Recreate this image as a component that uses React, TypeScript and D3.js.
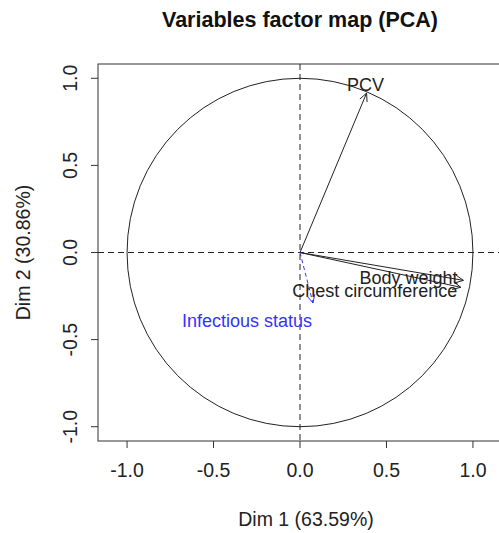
import React from 'react';
import * as d3 from 'd3';

const ticks = [-1.0, -0.5, 0.0, 0.5, 1.0];
const varNames = ['PCV', 'Body weight', 'Chest circumference', 'Infectious status'];
const dim1 = [0.385, 0.945, 0.93, 0.075];
const dim2 = [0.915, -0.16, -0.2, -0.29];
const varColors = ['#222', '#222', '#222', '#3333ff'];

const W = 499;
const H = 533;

export default function App() {
  const x = d3.scaleLinear().domain([-1.168, 1.168]).range([98, 502]);
  const y = d3.scaleLinear().domain([-1.082, 1.082]).range([441, 64]);
  const font = 'Liberation Sans, Arial, sans-serif';
  const rx = x(1) - x(0);
  const ry = y(0) - y(1);

  // label anchor offsets from arrow tip (pixels)
  const labelDx = [-1, -55, -86, -66];
  const labelDy = [-2, 4, 10, 24];

  const arrowHead = (x1: number, y1: number, x2: number, y2: number) => {
    const a = Math.atan2(y2 - y1, x2 - x1);
    const len = 9;
    const sp = Math.PI / 7;
    return `M${x2 - len * Math.cos(a - sp)},${y2 - len * Math.sin(a - sp)}L${x2},${y2}L${x2 - len * Math.cos(a + sp)},${y2 - len * Math.sin(a + sp)}`;
  };

  return (
    <svg width={W} height={H} style={{ position: 'absolute', left: 0, top: 0 }}>
      <rect width={W} height={H} fill="#fff" />
      <text x={300} y={27} textAnchor="middle" fontFamily={font} fontWeight="bold" fontSize={21.5} fill="#111">
        Variables factor map (PCA)
      </text>
      <rect x={98} y={64} width={404} height={377} fill="none" stroke="#333" strokeWidth={1} />
      <ellipse cx={x(0)} cy={y(0)} rx={rx} ry={ry} fill="none" stroke="#222" strokeWidth={1} />
      <line x1={98} x2={502} y1={y(0)} y2={y(0)} stroke="#222" strokeDasharray="6,4" />
      <line x1={x(0)} x2={x(0)} y1={64} y2={441} stroke="#222" strokeDasharray="6,4" />
      {varNames.map((n, i) => {
        const x2 = x(dim1[i]);
        const y2 = y(dim2[i]);
        const dashed = i === 3;
        return (
          <g key={n}>
            <line x1={x(0)} y1={y(0)} x2={x2} y2={y2} stroke={varColors[i]} strokeWidth={1}
              strokeDasharray={dashed ? '4,3' : undefined} />
            <path d={arrowHead(x(0), y(0), x2, y2)} fill="none" stroke={varColors[i]} strokeWidth={1} />
            <text x={x2 + labelDx[i]} y={y2 + labelDy[i]} textAnchor="middle" fontFamily={font} fontSize={18}
              fill={i === 3 ? '#3333ff' : '#222'}>
              {n}
            </text>
          </g>
        );
      })}
      {ticks.map((t) => (
        <g key={'x' + t}>
          <line x1={x(t)} x2={x(t)} y1={441} y2={448} stroke="#333" />
          <text x={x(t)} y={477} textAnchor="middle" fontFamily={font} fontSize={19.5} fill="#222">
            {t.toFixed(1)}
          </text>
        </g>
      ))}
      {ticks.map((t) => (
        <g key={'y' + t}>
          <line x1={91} x2={98} y1={y(t)} y2={y(t)} stroke="#333" />
          <text transform={`translate(77,${y(t)}) rotate(-90)`} textAnchor="middle" fontFamily={font} fontSize={19.5} fill="#222">
            {t.toFixed(1)}
          </text>
        </g>
      ))}
      <text x={306} y={526} textAnchor="middle" fontFamily={font} fontSize={19.5} fill="#222">
        Dim 1 (63.59%)
      </text>
      <text transform={`translate(30,${y(0)}) rotate(-90)`} textAnchor="middle" fontFamily={font} fontSize={19.5} fill="#222">
        Dim 2 (30.86%)
      </text>
    </svg>
  );
}
